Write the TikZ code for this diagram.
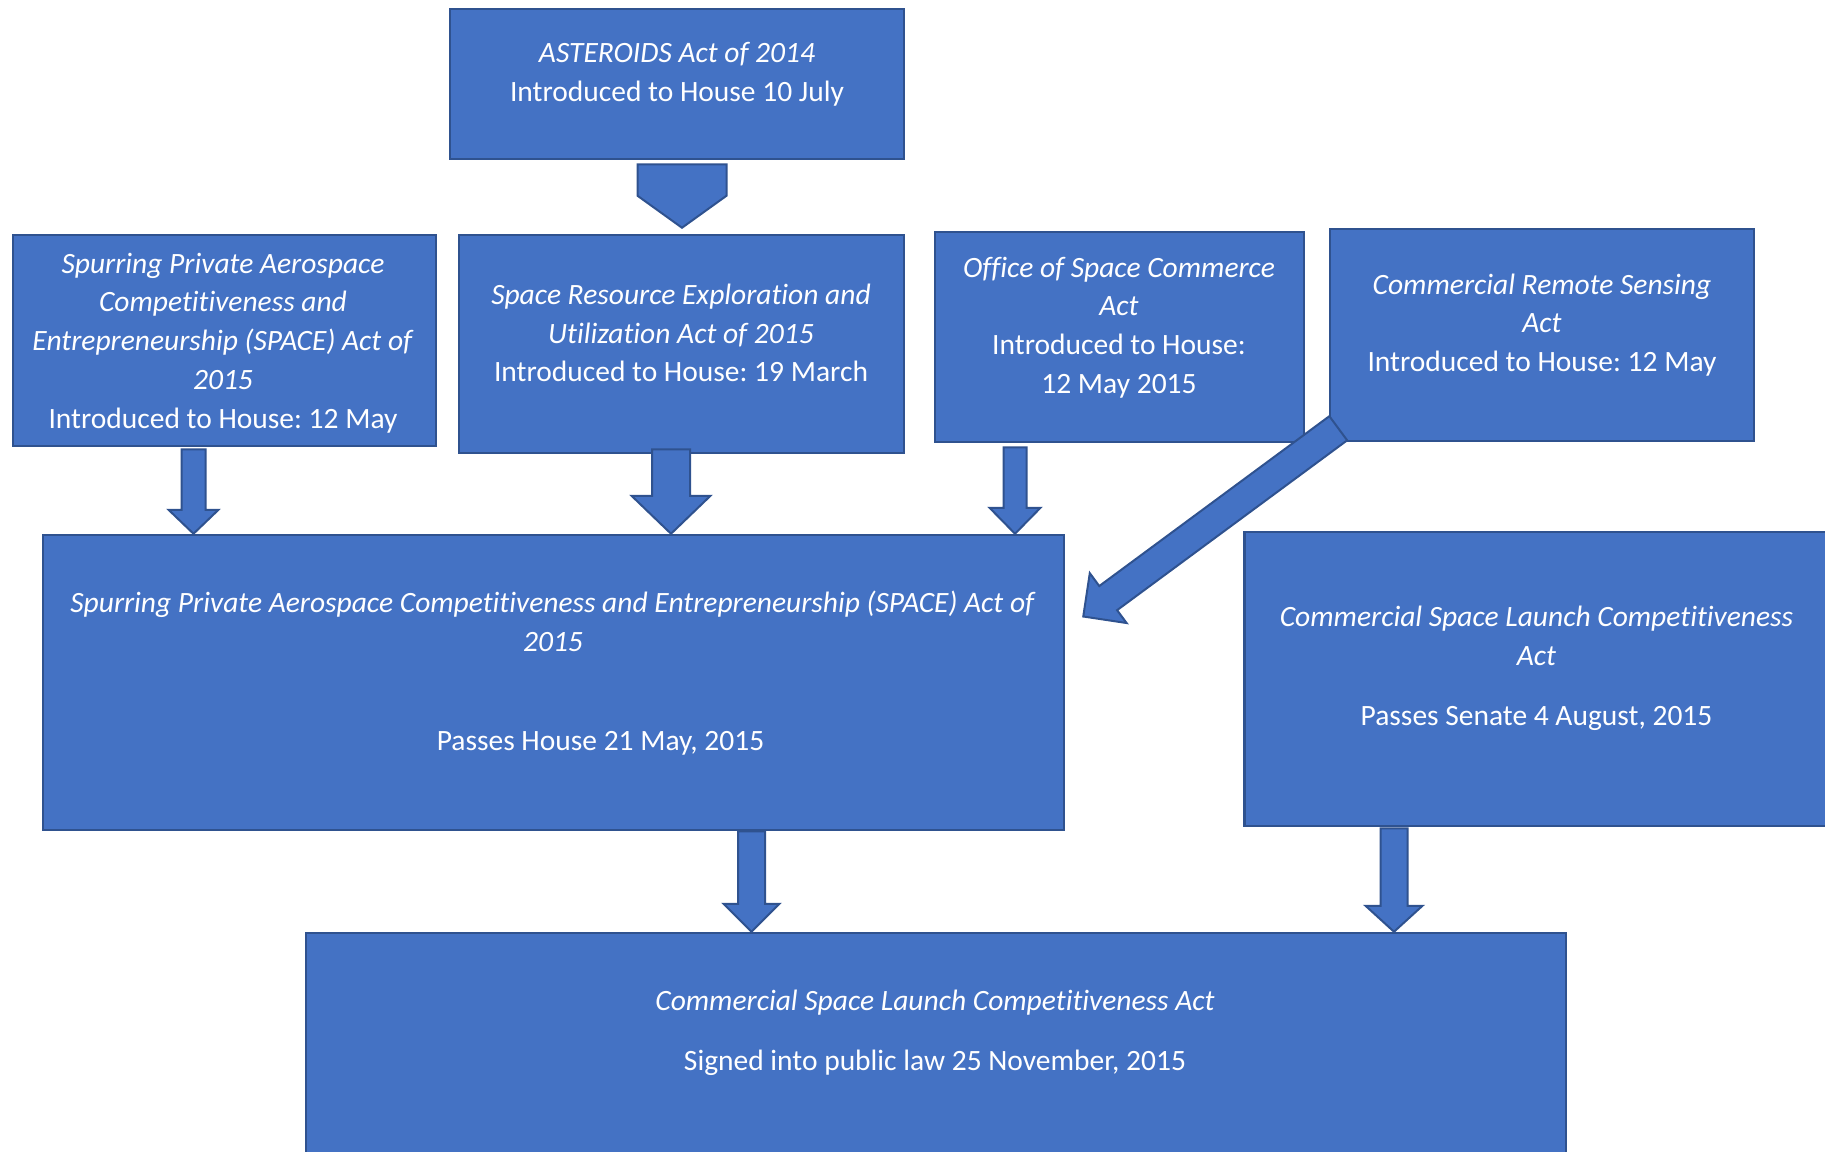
\documentclass[tikz,border=0pt]{standalone}
\usepackage{fontspec}
\setmainfont{Carlito}[Ligatures={NoCommon}]
\usepackage{tikz}
\usetikzlibrary{calc}
\definecolor{actfill}{HTML}{4472C4}
\definecolor{actline}{HTML}{2F528F}
% block arrow: tail, tip, shaft half width, head half width, head length
\newcommand{\blockarrow}[5]{%
  \path ($(#2)!#5!(#1)$) coordinate (neck);
  \draw[blockarr] ($(#1)!#3!90:(#2)$) -- ($(neck)!#3!90:(#2)$) -- ($(neck)!#4!90:(#2)$) -- (#2)
    -- ($(neck)!#4!-90:(#2)$) -- ($(neck)!#3!-90:(#2)$) -- ($(#1)!#3!-90:(#2)$) -- cycle;
}
\frenchspacing

\begin{document}
\begin{tikzpicture}[x=1pt,y=-1pt,
    act/.style={draw=actline,line width=2.5pt,fill=actfill,inner sep=0pt},
    txt/.style={text=white,align=center,inner sep=0pt,font=\fontsize{29.5}{38.8}\selectfont},
    blockarr/.style={draw=actline,line width=2pt,fill=actfill,line join=miter}]
    \useasboundingbox (0,0) rectangle (1825,1151);
    \clip (0,0) rectangle (1825,1151);

    \node[act,minimum width=454pt,minimum height=150pt] (ast) at (677,84) {};
    \node[act,minimum width=423pt,minimum height=211pt] (spsm) at (224.5,340.5) {};
    \node[act,minimum width=445pt,minimum height=218pt] (sreu) at (681.5,344) {};
    \node[act,minimum width=369pt,minimum height=210pt] (osc) at (1119.5,337) {};
    \node[act,minimum width=424pt,minimum height=212pt] (crs) at (1542,335) {};
    \node[act,minimum width=1021pt,minimum height=295pt] (space) at (553.5,682.5) {};
    \node[act,minimum width=595pt,minimum height=294pt] (cslca) at (1542,679) {};
    \node[act,minimum width=1260pt,minimum height=237pt] (law) at (936,1051.5) {};

    \node[txt] (ast-t) at (677,74) {\textit{ASTEROIDS Act of 2014}\\Introduced to House 10 July};
    \node[txt] (spsm-t) at (223,343) {\textit{Spurring Private Aerospace}\\\textit{Competitiveness and}\\
      \textit{Entrepreneurship (SPACE) Act of}\\\textit{2015}\\Introduced to House: 12 May};
    \node[txt] (sreu-t) at (681,333) {\textit{Space Resource Exploration and}\\
      \textit{Utilization Act of 2015}\\Introduced to House: 19 March};
    \node[txt] (osc-t) at (1119,327.5) {\textit{Office of Space Commerce}\\\textit{Act}\\
      Introduced to House:\\12 May 2015};
    \node[txt] (crs-t) at (1542,325) {\textit{Commercial Remote Sensing}\\\textit{Act}\\
      Introduced to House: 12 May};
    \node[txt] (space-t) at (553,673) {\textit{Spurring Private Aerospace Competitiveness and Entrepreneurship (SPACE) Act of}\\
      \textit{2015}\\[60pt]\hspace*{95pt}Passes House 21 May, 2015};
    \node[txt] (cslca-t) at (1536.5,668.5) {\textit{Commercial Space Launch Competitiveness}\\
      \textit{Act}\\[21pt]Passes Senate 4 August, 2015};
    \node[txt] (law-t) at (935,1033) {\textit{Commercial Space Launch Competitiveness Act}\\[21pt]
      Signed into public law 25 November, 2015};

    \coordinate (t1) at ($(ast.south)+(5,4)$);
    \coordinate (h1) at ($(sreu.north)+(0.5,-6)$);
    \coordinate (t2) at ($(spsm.south)+(-31,2)$);
    \coordinate (h2) at (t2 |- space.north);
    \coordinate (t3) at ($(sreu.south)+(-10.5,-5)$);
    \coordinate (h3) at (t3 |- space.north);
    \coordinate (t4) at ($(osc.south)+(-104.5,4)$);
    \coordinate (h4) at (t4 |- space.north);
    \coordinate (t5) at ($(crs.south west)+(9.5,-14)$);
    \coordinate (h5) at ($(space.east)+(18,-66)$);
    \coordinate (t6) at ($(space.south)+(198,0)$);
    \coordinate (h6) at (t6 |- law.north);
    \coordinate (t7) at ($(cslca.south)+(-148,1)$);
    \coordinate (h7) at (t7 |- law.north);

    \blockarrow{t1}{h1}{44.5pt}{44.5pt}{32pt}
    \blockarrow{t2}{h2}{12pt}{25pt}{24pt}
    \blockarrow{t3}{h3}{19pt}{39.5pt}{38pt}
    \blockarrow{t4}{h4}{11.5pt}{25.5pt}{26pt}
    \blockarrow{t5}{h5}{15pt}{31pt}{31pt}
    \blockarrow{t6}{h6}{13.5pt}{28pt}{28pt}
    \blockarrow{t7}{h7}{13.5pt}{28.5pt}{26pt}
\end{tikzpicture}
\end{document}
